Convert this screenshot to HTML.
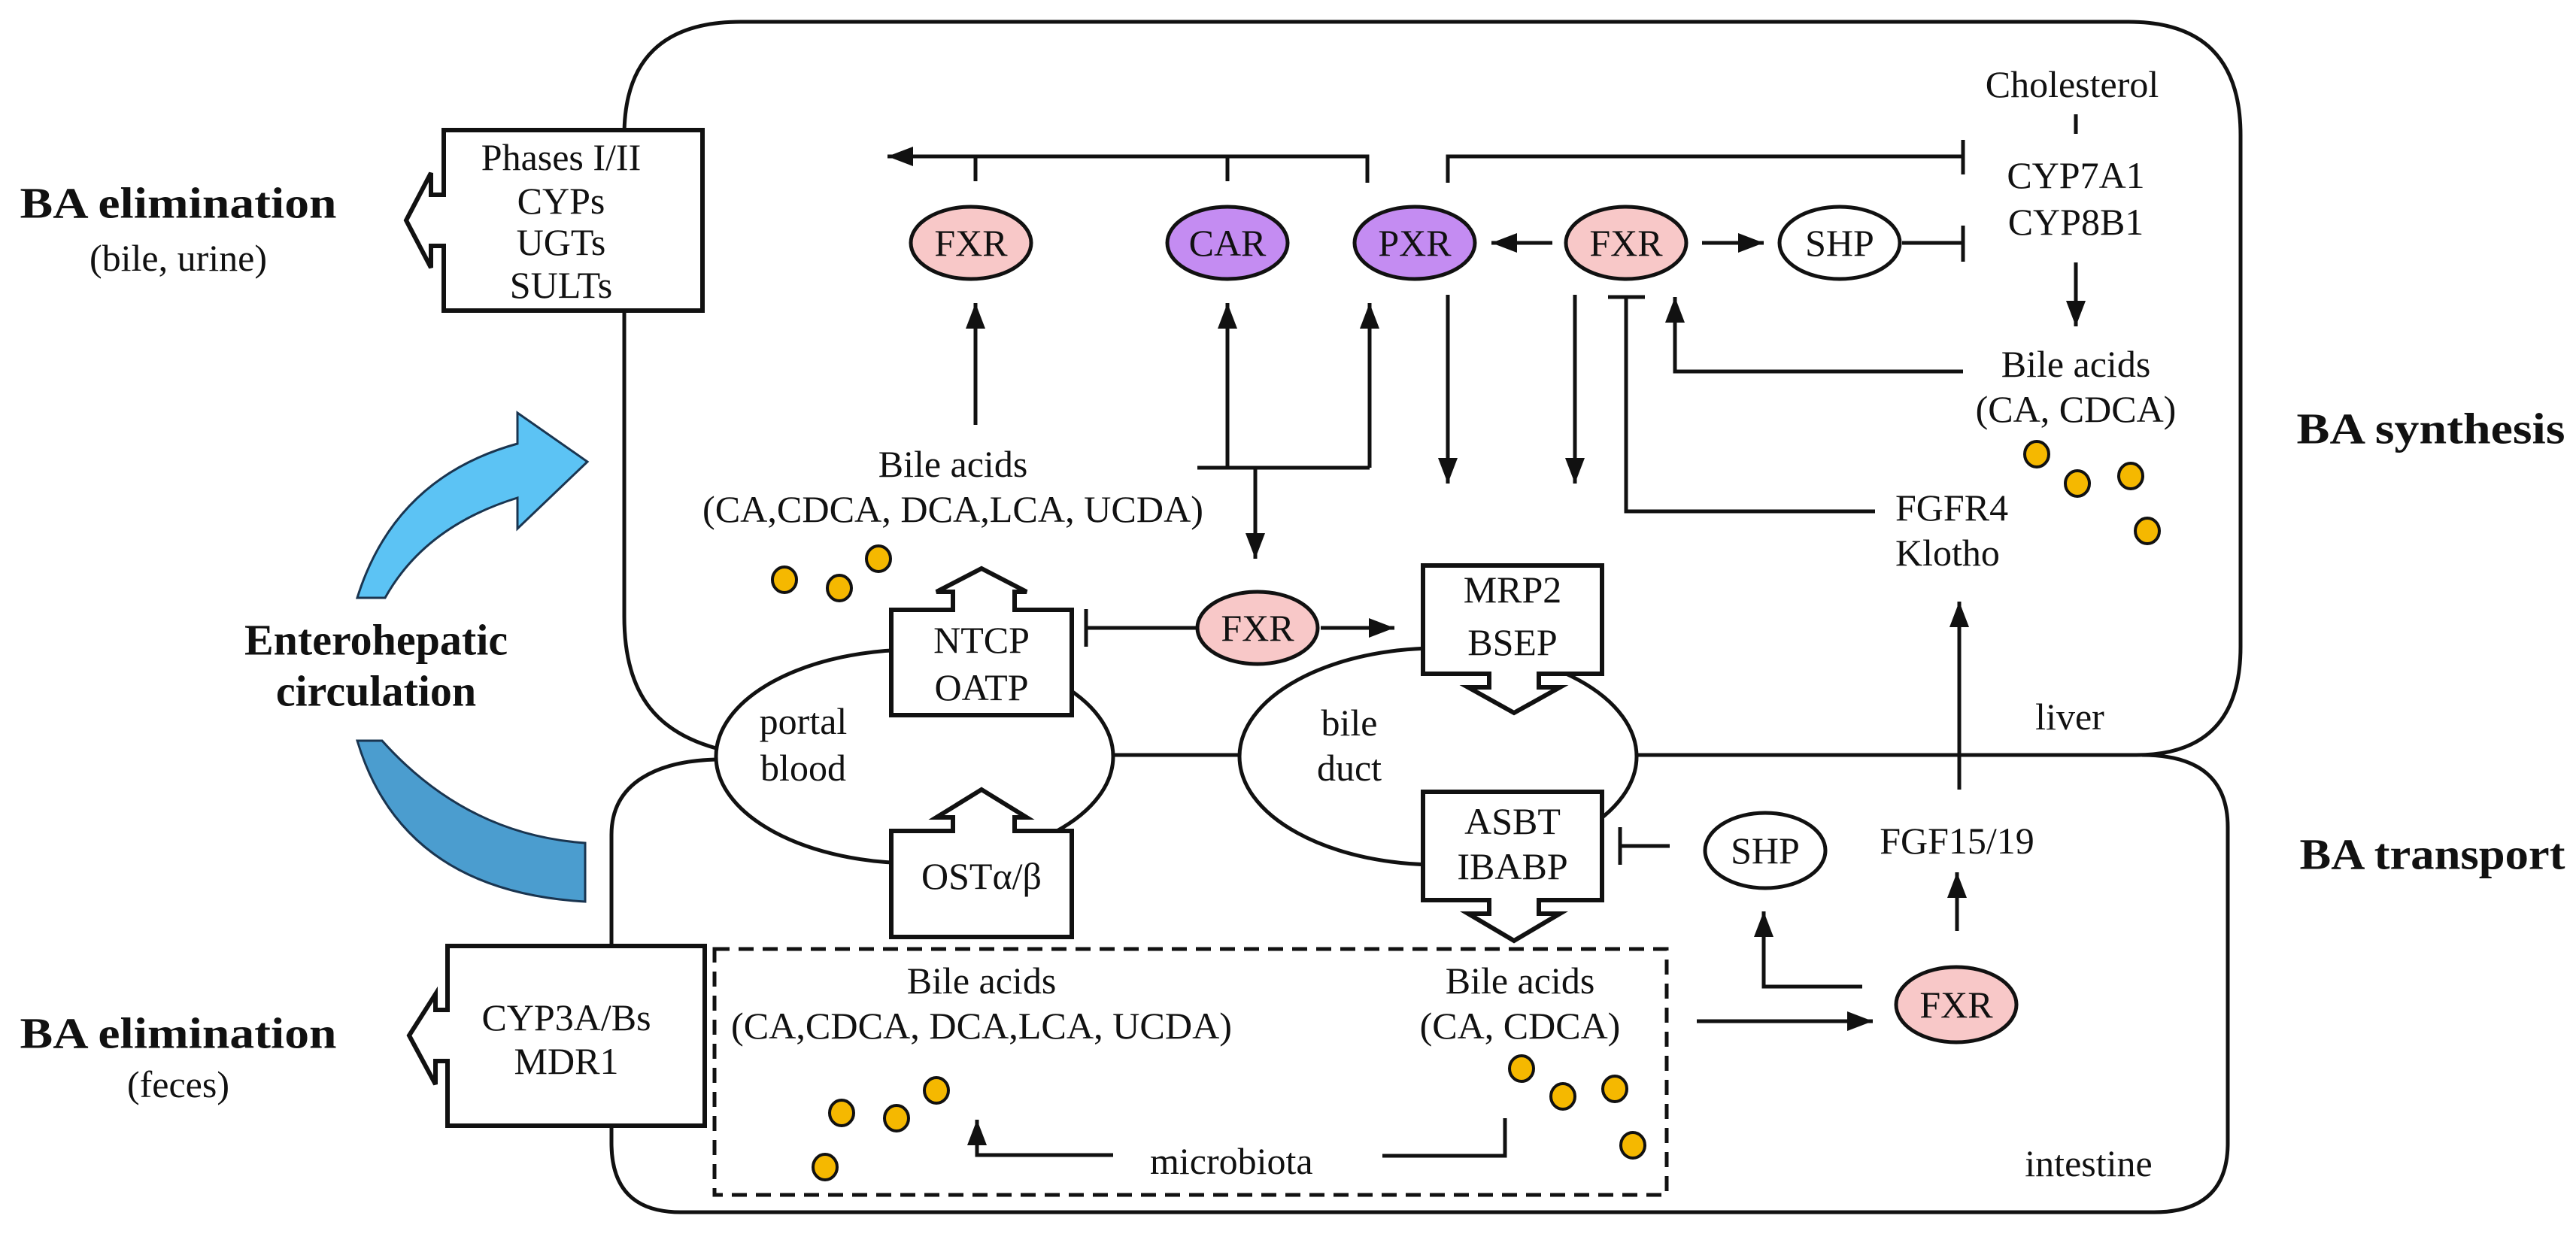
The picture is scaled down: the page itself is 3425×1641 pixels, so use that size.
<!DOCTYPE html>
<html><head><meta charset="utf-8"><style>
html,body{margin:0;padding:0;background:#fff;}
svg{display:block;}
text{font-family:"Liberation Serif",serif;fill:#111;}
.t{font-size:50px;text-anchor:middle;dominant-baseline:central;}
.b{font-size:58px;font-weight:bold;text-anchor:middle;dominant-baseline:central;}
.l{fill:none;stroke:#111;stroke-width:5;}
.box{fill:#fff;stroke:#111;stroke-width:6;}
.dot{fill:#f5b800;stroke:#111;stroke-width:4;}
</style></head><body>
<svg width="3425" height="1641" viewBox="0 0 3425 1641" xmlns="http://www.w3.org/2000/svg">
<defs>
<marker id="a" markerUnits="userSpaceOnUse" markerWidth="40" markerHeight="30" refX="34" refY="15" orient="auto">
<path d="M0,2 L34,15 L0,28 Z" fill="#111"/>
</marker>
</defs>

<!-- blue arrows -->
<path d="M475,795 Q525,635 688,590 L688,549 L781,614 L688,703 L688,662 Q565,700 512,795 Z" fill="#5cc3f4" stroke="#1a3550" stroke-width="3"/>
<path d="M475,985 Q535,1185 778,1199 L778,1121 Q620,1110 508,985 Z" fill="#4b9dcf" stroke="#1a3550" stroke-width="3"/>

<!-- organ outlines -->
<path class="l" d="M952,995 C880,975 830,930 830,820 L830,180 Q830,29 985,29 L2830,29 Q2979,29 2979,180 L2979,860 Q2979,1004 2840,1004 L2176,1004"/>
<path class="l" d="M1480,1004 L1649,1004"/>
<path class="l" d="M952,1010 C875,1012 813,1040 813,1110 L813,1520 Q813,1612 905,1612 L2864,1612 Q2962,1612 2962,1520 L2962,1100 Q2962,1004 2848,1004"/>

<ellipse class="l" cx="1216" cy="1006" rx="264" ry="142"/>
<ellipse class="l" cx="1912" cy="1006" rx="264" ry="144"/>

<!-- dashed box -->
<rect x="950" y="1262" width="1266" height="327" fill="none" stroke="#111" stroke-width="5" stroke-dasharray="20 12"/>

<!-- boxes -->
<path class="box" d="M934,173 L590,173 L590,259 L573,259 L573,230 L540,293 L573,356 L573,327 L590,327 L590,413 L934,413 Z"/>
<path class="box" d="M937,1258 L595,1258 L595,1343 L579,1343 L579,1322 L544,1377 L579,1442 L579,1411 L595,1411 L595,1497 L937,1497 Z"/>
<path class="box" d="M1185,811 L1267,811 L1267,787 L1245,787 L1305,756 L1365,787 L1349,787 L1349,811 L1425,811 L1425,951 L1185,951 Z"/>
<path class="box" d="M1185,1105 L1267,1105 L1267,1087 L1245,1087 L1305,1050 L1365,1087 L1349,1087 L1349,1105 L1425,1105 L1425,1246 L1185,1246 Z"/>
<path class="box" d="M1892,752 L2130,752 L2130,896 L2046,896 L2046,914 L2074,914 L2013,948 L1952,914 L1980,914 L1980,896 L1892,896 Z"/>
<path class="box" d="M1892,1053 L2130,1053 L2130,1197 L2046,1197 L2046,1215 L2074,1215 L2013,1251 L1952,1215 L1980,1215 L1980,1197 L1892,1197 Z"/>

<!-- connectors liver -->
<path class="l" d="M1818,243 L1818,208 L1180,208" marker-end="url(#a)"/>
<path class="l" d="M1297,208 L1297,241 M1632,208 L1632,241"/>
<path class="l" d="M1925,243 L1925,208 L2610,208 M2610,186 L2610,232"/>
<path class="l" d="M1297,565 L1297,403" marker-end="url(#a)"/>
<path class="l" d="M1592,622 L1821,622"/>
<path class="l" d="M1632,622 L1632,403" marker-end="url(#a)"/>
<path class="l" d="M1821,622 L1821,403" marker-end="url(#a)"/>
<path class="l" d="M1669,622 L1669,743" marker-end="url(#a)"/>
<path class="l" d="M2064,323 L1983,323" marker-end="url(#a)"/>
<path class="l" d="M2263,323 L2345,323" marker-end="url(#a)"/>
<path class="l" d="M2529,323 L2610,323 M2610,300 L2610,348"/>
<path class="l" d="M2760,152 L2760,178"/>
<path class="l" d="M2760,349 L2760,434" marker-end="url(#a)"/>
<path class="l" d="M2610,494 L2227,494 L2227,395" marker-end="url(#a)"/>
<path class="l" d="M1925,392 L1925,643" marker-end="url(#a)"/>
<path class="l" d="M2094,392 L2094,643" marker-end="url(#a)"/>
<path class="l" d="M2493,680 L2162,680 L2162,395 M2138,395 L2187,395"/>
<path class="l" d="M2605,1050 L2605,800" marker-end="url(#a)"/>
<path class="l" d="M1756,835 L1854,835" marker-end="url(#a)"/>
<path class="l" d="M1590,835 L1444,835 M1444,810 L1444,860"/>

<!-- connectors intestine -->
<path class="l" d="M2220,1125 L2154,1125 M2154,1100 L2154,1150"/>
<path class="l" d="M2476,1312 L2345,1312 L2345,1212" marker-end="url(#a)"/>
<path class="l" d="M2602,1238 L2602,1160" marker-end="url(#a)"/>
<path class="l" d="M2256,1358 L2490,1358" marker-end="url(#a)"/>
<path class="l" d="M1838,1537 L2001,1537 L2001,1487"/>
<path class="l" d="M1480,1536 L1299,1536 L1299,1489" marker-end="url(#a)"/>

<!-- ellipses -->
<ellipse cx="1291" cy="323" rx="80" ry="48" fill="#f8c8c8" stroke="#111" stroke-width="5"/>
<ellipse cx="1632" cy="323" rx="80" ry="48" fill="#c48cf2" stroke="#111" stroke-width="5"/>
<ellipse cx="1881" cy="323" rx="80" ry="48" fill="#c48cf2" stroke="#111" stroke-width="5"/>
<ellipse cx="2162" cy="323" rx="80" ry="48" fill="#f8c8c8" stroke="#111" stroke-width="5"/>
<ellipse cx="2446" cy="323" rx="80" ry="48" fill="#fff" stroke="#111" stroke-width="5"/>
<ellipse cx="1672" cy="835" rx="80" ry="48" fill="#f8c8c8" stroke="#111" stroke-width="5"/>
<ellipse cx="2347" cy="1131" rx="80" ry="50" fill="#fff" stroke="#111" stroke-width="5"/>
<ellipse cx="2601" cy="1336" rx="80" ry="50" fill="#f8c8c8" stroke="#111" stroke-width="5"/>

<text class="t" x="1291" y="323">FXR</text>
<text class="t" x="1632" y="323">CAR</text>
<text class="t" x="1881" y="323">PXR</text>
<text class="t" x="2162" y="323">FXR</text>
<text class="t" x="2446" y="323">SHP</text>
<text class="t" x="1672" y="835">FXR</text>
<text class="t" x="2347" y="1131">SHP</text>
<text class="t" x="2601" y="1336">FXR</text>

<!-- dots -->
<g class="dot">
<ellipse cx="1043" cy="771" rx="16" ry="17"/><ellipse cx="1116" cy="782" rx="16" ry="17"/><ellipse cx="1168" cy="743" rx="16" ry="17"/>
<ellipse cx="2708" cy="604" rx="16" ry="17"/><ellipse cx="2762" cy="643" rx="16" ry="17"/><ellipse cx="2833" cy="633" rx="16" ry="17"/><ellipse cx="2855" cy="706" rx="16" ry="17"/>
<ellipse cx="1119" cy="1480" rx="16" ry="17"/><ellipse cx="1192" cy="1487" rx="16" ry="17"/><ellipse cx="1245" cy="1450" rx="16" ry="17"/><ellipse cx="1097" cy="1552" rx="16" ry="17"/>
<ellipse cx="2023" cy="1421" rx="16" ry="17"/><ellipse cx="2078" cy="1458" rx="16" ry="17"/><ellipse cx="2147" cy="1448" rx="16" ry="17"/><ellipse cx="2171" cy="1523" rx="16" ry="17"/>
</g>

<!-- text -->
<text class="t" x="746" y="209">Phases I/II</text>
<text class="t" x="746" y="267">CYPs</text>
<text class="t" x="746" y="322">UGTs</text>
<text class="t" x="746" y="379">SULTs</text>
<text class="t" x="753" y="1353">CYP3A/Bs</text>
<text class="t" x="753" y="1411">MDR1</text>
<text class="t" x="1305" y="851">NTCP</text>
<text class="t" x="1305" y="914">OATP</text>
<text class="t" x="1305" y="1165">OSTα/β</text>
<text class="t" x="2011" y="784">MRP2</text>
<text class="t" x="2011" y="854">BSEP</text>
<text class="t" x="2011" y="1092">ASBT</text>
<text class="t" x="2011" y="1152">IBABP</text>
<text class="t" x="1068" y="959">portal</text>
<text class="t" x="1068" y="1021">blood</text>
<text class="t" x="1794" y="961">bile</text>
<text class="t" x="1794" y="1021">duct</text>
<text class="t" x="1267" y="617">Bile acids</text>
<text class="t" x="1267" y="677" textLength="666" lengthAdjust="spacingAndGlyphs">(CA,CDCA, DCA,LCA, UCDA)</text>
<text class="t" x="2755" y="112">Cholesterol</text>
<text class="t" x="2760" y="233">CYP7A1</text>
<text class="t" x="2760" y="295">CYP8B1</text>
<text class="t" x="2760" y="484">Bile acids</text>
<text class="t" x="2760" y="544">(CA, CDCA)</text>
<text class="t" x="2520" y="675" style="text-anchor:start">FGFR4</text>
<text class="t" x="2520" y="735" style="text-anchor:start">Klotho</text>
<text class="t" x="2602" y="1118">FGF15/19</text>
<text class="t" x="2752" y="953">liver</text>
<text class="t" x="2777" y="1547">intestine</text>
<text class="t" x="1305" y="1304">Bile acids</text>
<text class="t" x="1305" y="1364" textLength="666" lengthAdjust="spacingAndGlyphs">(CA,CDCA, DCA,LCA, UCDA)</text>
<text class="t" x="2021" y="1304">Bile acids</text>
<text class="t" x="2021" y="1364">(CA, CDCA)</text>
<text class="t" x="1529" y="1544" style="text-anchor:start">microbiota</text>

<text class="b" x="237" y="270" textLength="421" lengthAdjust="spacingAndGlyphs">BA elimination</text>
<text class="t" x="237" y="343">(bile, urine)</text>
<text class="b" x="237" y="1374" textLength="421" lengthAdjust="spacingAndGlyphs">BA elimination</text>
<text class="t" x="237" y="1442">(feces)</text>
<text class="b" x="500" y="851">Enterohepatic</text>
<text class="b" x="500" y="919">circulation</text>
<text class="b" x="3232" y="570" textLength="357" lengthAdjust="spacingAndGlyphs">BA synthesis</text>
<text class="b" x="3234" y="1136" textLength="353" lengthAdjust="spacingAndGlyphs">BA transport</text>
</svg>
</body></html>
